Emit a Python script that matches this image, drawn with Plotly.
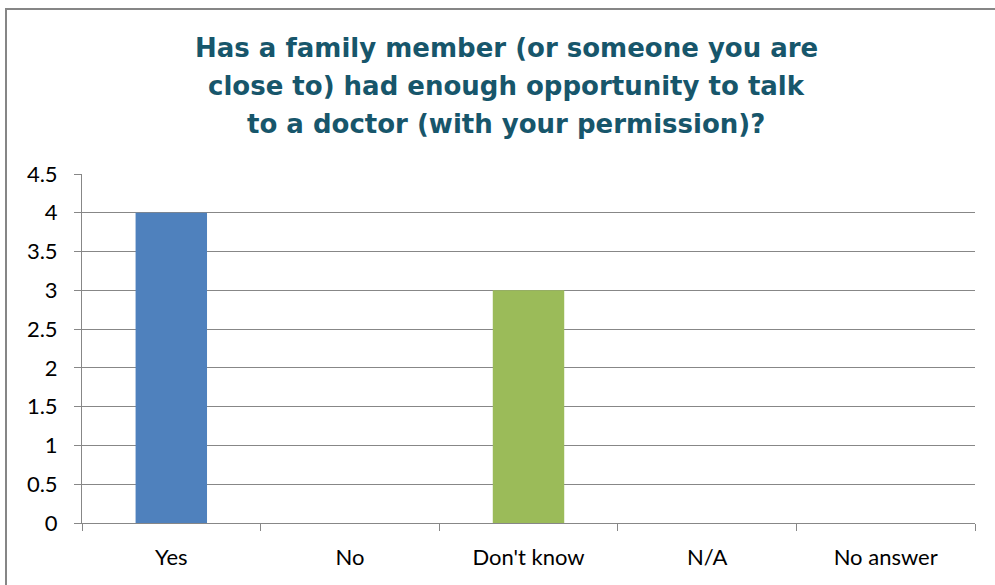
import plotly.graph_objects as go

# Survey responses
categories = ["Yes", "No", "Don't know", "N/A", "No answer"]
counts = [4, 0, 3, 0, 0]
bar_colors = ["#4F81BD", "#4F81BD", "#9BBB59", "#4F81BD", "#4F81BD"]
y_ticks = [0, 0.5, 1, 1.5, 2, 2.5, 3, 3.5, 4, 4.5]
y_tick_text = ["0", "0.5", "1", "1.5", "2", "2.5", "3", "3.5", "4", "4.5"]

title_lines = [
    "Has a family member (or someone you are",
    "close to) had enough opportunity to talk",
    "to a doctor (with your permission)?",
]

W, H = 995, 585
ml, mr, mt, mb = 82, 20, 174, 62
pw, ph = W - ml - mr, H - mt - mb

fig = go.Figure(go.Bar(
    x=categories,
    y=counts,
    marker=dict(color=bar_colors, line=dict(width=0)),
    width=0.4,
))

grid = "#878787"
fig.update_layout(
    width=W, height=H,
    margin=dict(l=ml, r=mr, t=mt, b=mb, pad=0),
    paper_bgcolor="white",
    plot_bgcolor="white",
    showlegend=False,
    font=dict(family="Lato, sans-serif", size=22, color="#000000"),
)

# Title, one annotation per line
for i, line in enumerate(title_lines):
    fig.add_annotation(
        text=line,
        xref="paper", yref="paper",
        x=(506 - ml) / pw, xanchor="center",
        y=(H - mb - (48 + 38 * i)) / ph, yanchor="middle",
        showarrow=False,
        font=dict(family="DejaVu Sans", size=26, color="#17566B", weight="bold"),
    )

fig.update_yaxes(
    range=[0, 4.5],
    tickvals=y_ticks, ticktext=y_tick_text,
    showgrid=True, gridcolor=grid, gridwidth=1,
    showline=True, linecolor=grid, linewidth=1,
    ticks="outside", ticklen=7, tickcolor=grid,
    zeroline=False,
    ticklabelstandoff=12,
)
fig.update_xaxes(
    range=[-0.5, 4.5],
    showgrid=False,
    showline=True, linecolor=grid, linewidth=1,
    ticks="outside", ticklen=7, tickcolor=grid,
    tickson="boundaries",
    ticklabelstandoff=15,
)

# Outer chart frame
fig.add_shape(
    type="rect", xref="paper", yref="paper",
    x0=(6 - ml) / pw, x1=(W + 10 - ml) / pw,
    y0=(H - mb - (H + 10)) / ph, y1=(H - mb - 9) / ph,
    line=dict(color="#868686", width=2), fillcolor="rgba(0,0,0,0)",
    layer="below",
)

fig.write_html("out.html")
